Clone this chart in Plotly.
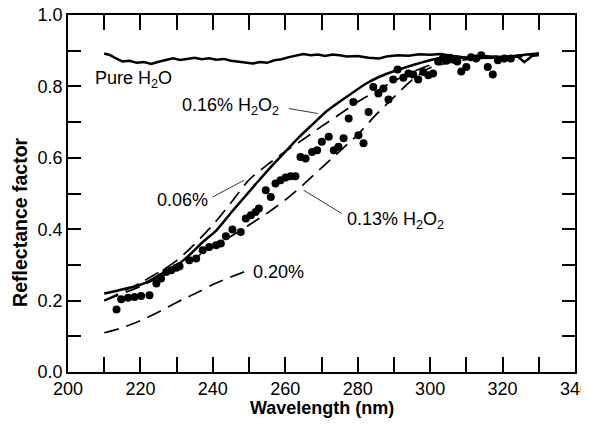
import plotly.graph_objects as go

# ---------------- data ----------------
water_wl = [210, 211.5, 213, 215, 217, 219, 221, 223, 225, 227, 229, 231, 233, 235, 237,
            239, 241, 243, 245, 247, 249, 251, 253, 255, 257, 259, 261, 263, 265, 267,
            269, 271, 273, 275, 277, 280, 283, 286, 288, 291, 294, 297, 300, 303, 306,
            309, 312, 315, 318, 321, 324, 326, 328, 330]
water_r = [0.892, 0.888, 0.880, 0.870, 0.872, 0.866, 0.868, 0.863, 0.869, 0.874, 0.879,
           0.874, 0.877, 0.880, 0.876, 0.879, 0.875, 0.877, 0.872, 0.870, 0.866, 0.864,
           0.868, 0.866, 0.873, 0.876, 0.882, 0.886, 0.891, 0.887, 0.889, 0.885, 0.889,
           0.887, 0.884, 0.885, 0.880, 0.878, 0.884, 0.887, 0.886, 0.890, 0.889, 0.891,
           0.885, 0.882, 0.878, 0.880, 0.884, 0.882, 0.886, 0.868, 0.884, 0.893]

h16_wl = [210, 213, 216, 218, 221, 223, 225, 228, 230, 232, 234, 237, 241, 245, 249, 253,
          257, 261, 264, 268, 271, 274, 278, 282, 286, 291, 296, 302, 306, 310, 315,
          320, 325, 330]
h16_r = [0.220, 0.226, 0.234, 0.238, 0.248, 0.258, 0.271, 0.285, 0.299, 0.314, 0.332, 0.362,
         0.397, 0.446, 0.493, 0.540, 0.585, 0.628, 0.660, 0.698, 0.727, 0.750, 0.778,
         0.806, 0.827, 0.846, 0.862, 0.878, 0.885, 0.880, 0.885, 0.880, 0.887, 0.892]

h06_wl = [210, 220, 230, 240, 245, 250, 255, 260, 265, 270, 275, 280, 285, 290, 295, 300,
          305, 310, 320, 330]
h06_r = [0.200, 0.250, 0.312, 0.412, 0.474, 0.538, 0.580, 0.618, 0.652, 0.688, 0.722, 0.757,
         0.786, 0.815, 0.840, 0.860, 0.874, 0.880, 0.884, 0.890]

h13_wl = [210, 220, 230, 240, 245, 250, 255, 260, 265, 270, 275, 280, 285, 290, 295, 300,
          310, 320, 330]
h13_r = [0.200, 0.240, 0.290, 0.350, 0.380, 0.412, 0.445, 0.482, 0.525, 0.572, 0.618, 0.665,
         0.720, 0.770, 0.818, 0.852, 0.875, 0.880, 0.886]

h20_wl = [210, 215, 220, 225, 230, 236, 240, 244, 249]
h20_r = [0.110, 0.124, 0.144, 0.168, 0.195, 0.224, 0.245, 0.262, 0.282]

dots_wl = [213.4, 214.7, 216.6, 218.4, 220.2, 222.5, 224.4, 225.7, 227.1, 228.5, 229.9,
           230.8, 233.5, 235.4, 237.2, 239.0, 240.9, 242.2, 243.6, 245.4, 247.7, 249.1,
           250.5, 251.8, 252.7, 254.6, 256.0, 257.3, 258.7, 260.1, 261.5, 262.8, 264.2,
           265.6, 267.4, 268.8, 270.1, 272.0, 273.4, 274.7, 276.1, 277.5, 278.8, 280.2,
           281.6, 283.0, 284.3, 285.7, 287.1, 288.5, 289.8, 291.0, 292.6, 294.0, 295.3,
           296.7, 298.1, 299.5, 300.8, 302.2, 303.5, 304.5, 305.5, 306.5, 307.5, 308.6,
           310.0, 311.3, 312.7, 314.1, 315.9, 317.3, 318.7, 320.5, 322.3]
dots_r = [0.175, 0.204, 0.208, 0.210, 0.213, 0.215, 0.248, 0.262, 0.280, 0.285, 0.292,
          0.296, 0.313, 0.318, 0.341, 0.350, 0.355, 0.360, 0.380, 0.399, 0.392, 0.430,
          0.439, 0.448, 0.458, 0.509, 0.490, 0.528, 0.537, 0.545, 0.548, 0.548, 0.602,
          0.598, 0.616, 0.621, 0.645, 0.659, 0.621, 0.631, 0.655, 0.710, 0.756, 0.663,
          0.641, 0.728, 0.798, 0.780, 0.794, 0.763, 0.819, 0.847, 0.824, 0.836, 0.833,
          0.819, 0.840, 0.831, 0.836, 0.870, 0.878, 0.872, 0.880, 0.875, 0.870, 0.842,
          0.854, 0.882, 0.878, 0.887, 0.854, 0.833, 0.873, 0.878, 0.878]

x_ticks = [200, 220, 240, 260, 280, 300, 320, 340]
y_ticks = [0.0, 0.2, 0.4, 0.6, 0.8, 1.0]

x_title = "Wavelength (nm)"
y_title = "Reflectance factor"

# labels: (text, x, y)
labels = [
    ("Pure H<sub>2</sub>O", 207.0, 0.82),
    ("0.16% H<sub>2</sub>O<sub>2</sub>", 231.0, 0.745),
    ("0.06%", 224.0, 0.481),
    ("0.13% H<sub>2</sub>O<sub>2</sub>", 276.4, 0.425),
    ("0.20%", 250.6, 0.279),
]
# leader lines: (x0, y0, x1, y1)
leaders = [
    (261.0, 0.738, 269.0, 0.724),
    (239.9, 0.490, 248.6, 0.537),
    (265.1, 0.509, 275.6, 0.444),
]

FONT = "Liberation Sans, Arial, Helvetica, sans-serif"
FS = 18

fig = go.Figure()
line_w = 2.5
fig.add_trace(go.Scatter(x=water_wl, y=water_r, mode="lines",
                         line=dict(color="black", width=line_w)))
fig.add_trace(go.Scatter(x=h16_wl, y=h16_r, mode="lines",
                         line=dict(color="black", width=line_w, shape="spline", smoothing=0.6)))
for wl, r in [(h06_wl, h06_r), (h13_wl, h13_r), (h20_wl, h20_r)]:
    fig.add_trace(go.Scatter(x=wl, y=r, mode="lines",
                             line=dict(color="black", width=1.7, dash="15px,8px",
                                       shape="spline", smoothing=0.8)))
fig.add_trace(go.Scatter(x=dots_wl, y=dots_r, mode="markers",
                         marker=dict(color="black", size=8, line=dict(width=0))))

for text, x, y in labels:
    fig.add_annotation(x=x, y=y, text=text, showarrow=False, xanchor="left",
                       yanchor="middle", font=dict(family=FONT, size=FS, color="black"))
for x0, y0, x1, y1 in leaders:
    fig.add_shape(type="line", x0=x0, y0=y0, x1=x1, y1=y1,
                  line=dict(color="black", width=0.8))

# axis titles
fig.add_annotation(xref="paper", yref="paper", x=0.5, y=-0.10, text=f"<b>{x_title}</b>",
                   showarrow=False, xanchor="center", yanchor="middle",
                   font=dict(family=FONT, size=18, color="black"))
fig.add_annotation(xref="paper", yref="paper", x=-0.095, y=0.42, text=f"<b>{y_title}</b>",
                   showarrow=False, xanchor="center", yanchor="middle", textangle=-90,
                   font=dict(family=FONT, size=19.5, color="black"))

axis_common = dict(showgrid=False, zeroline=False, showline=True, linecolor="black",
                   linewidth=1.5, ticks="inside", tickcolor="black", tickwidth=1.5,
                   mirror="ticks", automargin=False, ticklabeloverflow="allow",
                   tickfont=dict(family=FONT, size=FS, color="black"))
fig.update_xaxes(range=[200, 340], tickvals=x_ticks, ticktext=[str(v) for v in x_ticks],
                 ticklen=15,
                 minor=dict(dtick=10, tick0=200, ticks="inside", ticklen=15,
                            tickcolor="black", tickwidth=1.5),
                 **axis_common)
fig.update_yaxes(range=[0, 1], tickvals=y_ticks, ticktext=[f"{v:.1f}" for v in y_ticks],
                 ticklen=13,
                 minor=dict(dtick=0.1, tick0=0, ticks="inside", ticklen=13,
                            tickcolor="black", tickwidth=1.5),
                 **axis_common)

# page body adds an 8px offset, so the figure is sized to fill the remaining window
fig.update_layout(width=581, height=417, showlegend=False,
                  margin=dict(l=60, r=14, t=7, b=53, autoexpand=False),
                  plot_bgcolor="white", paper_bgcolor="white")

fig.write_html("out.html")
